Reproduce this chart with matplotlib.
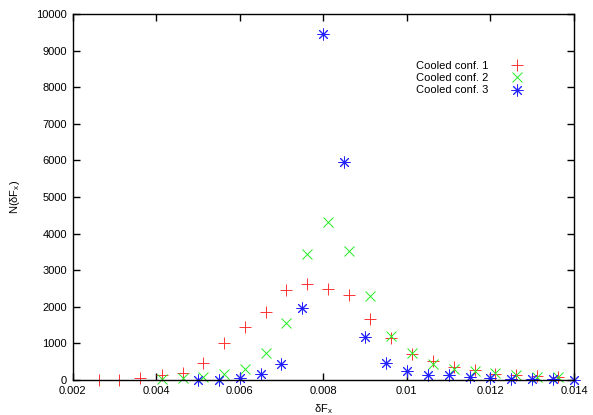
import matplotlib
matplotlib.use("Agg")
import matplotlib.pyplot as plt

plt.rcParams['font.family'] = ['Liberation Sans', 'DejaVu Sans']
plt.rcParams['mathtext.default'] = 'regular'
plt.rcParams['font.size'] = 8

x_red = [0.00264, 0.00312, 0.00361, 0.00413, 0.00464, 0.00513, 0.00562, 0.00612,
         0.00662, 0.00712, 0.00762, 0.00812, 0.00862, 0.00912, 0.00962, 0.01012,
         0.01062, 0.01112, 0.01162, 0.01212, 0.01262, 0.01312, 0.01362]
y_red = [0, 10, 45, 135, 180, 455, 1000, 1440, 1850, 2450, 2615, 2478, 2320, 1667,
         1160, 715, 528, 364, 264, 173, 137, 100, 85]

x_green = [0.00413, 0.00464, 0.00513, 0.00562, 0.00612, 0.00662, 0.00712, 0.00762,
           0.00812, 0.00862, 0.00912, 0.00962, 0.01012, 0.01062, 0.01112, 0.01162,
           0.01212, 0.01262, 0.01312, 0.01362]
y_green = [20, 45, 70, 164, 300, 746, 1548, 3455, 4325, 3525, 2295, 1215, 730, 437,
           305, 237, 178, 146, 91, 91]

x_blue = [0.0050, 0.0055, 0.0060, 0.0065, 0.0070, 0.0075, 0.0080, 0.0085, 0.0090,
          0.0095, 0.0100, 0.0105, 0.0110, 0.0115, 0.0120, 0.0125, 0.0130, 0.0135, 0.0140]
y_blue = [10, 10, 60, 155, 437, 1958, 9445, 5948, 1184, 455, 237, 146, 137, 78, 55,
          36, 40, 40, 0]

labels = ["Cooled conf. 1", "Cooled conf. 2", "Cooled conf. 3"]
xticks = [0.002, 0.004, 0.006, 0.008, 0.01, 0.012, 0.014]
xticklabels = ["0.002", "0.004", "0.006", "0.008", "0.01", "0.012", "0.014"]
yticks = list(range(0, 10001, 1000))

W, H = 593, 415
fig = plt.figure(figsize=(W / 100, H / 100), dpi=100)
ax = fig.add_axes([72.5 / W, 1 - 380 / H, (574 - 72.5) / W, (380 - 14) / H])

ax.plot(x_red, y_red, linestyle='none', marker='+', color='#ff3333', ms=8, mew=0.7,
        label=labels[0], clip_on=False)
ax.plot(x_green, y_green, linestyle='none', marker='x', color='#22ee22', ms=7.5, mew=0.7,
        label=labels[1], clip_on=False)
ax.plot(x_blue, y_blue, linestyle='none', marker=(8, 2, 0), color='#2222ff', ms=8.5, mew=0.7,
        label=labels[2], clip_on=False)

ax.set_xlim(0.002, 0.014)
ax.set_ylim(0, 10000)
ax.set_xticks(xticks)
ax.set_xticklabels(xticklabels)
ax.set_yticks(yticks)
ax.set_yticklabels([str(v) for v in yticks])
ax.tick_params(direction='in', length=5, width=1, top=True, right=True, pad=4,
               labelsize=8, colors='black')
for s in ax.spines.values():
    s.set_linewidth(1)
    s.set_color('black')

fig.text(323 / W, 1 - 409 / H, 'δF$_x$', ha='center', va='center', fontsize=8)
fig.text(15 / W, 1 - 197 / H, 'N(δF$_x$)', ha='center', va='center', rotation=90,
         fontsize=8)

leg = ax.legend(loc='upper left', bbox_to_anchor=(416 / W, 1 - 61 / H),
                bbox_transform=fig.transFigure, frameon=False, markerfirst=False,
                borderpad=0, borderaxespad=0, handlelength=1.5, handletextpad=1.8,
                labelspacing=0.2, fontsize=8)

fig.savefig('out.png', dpi=100)
